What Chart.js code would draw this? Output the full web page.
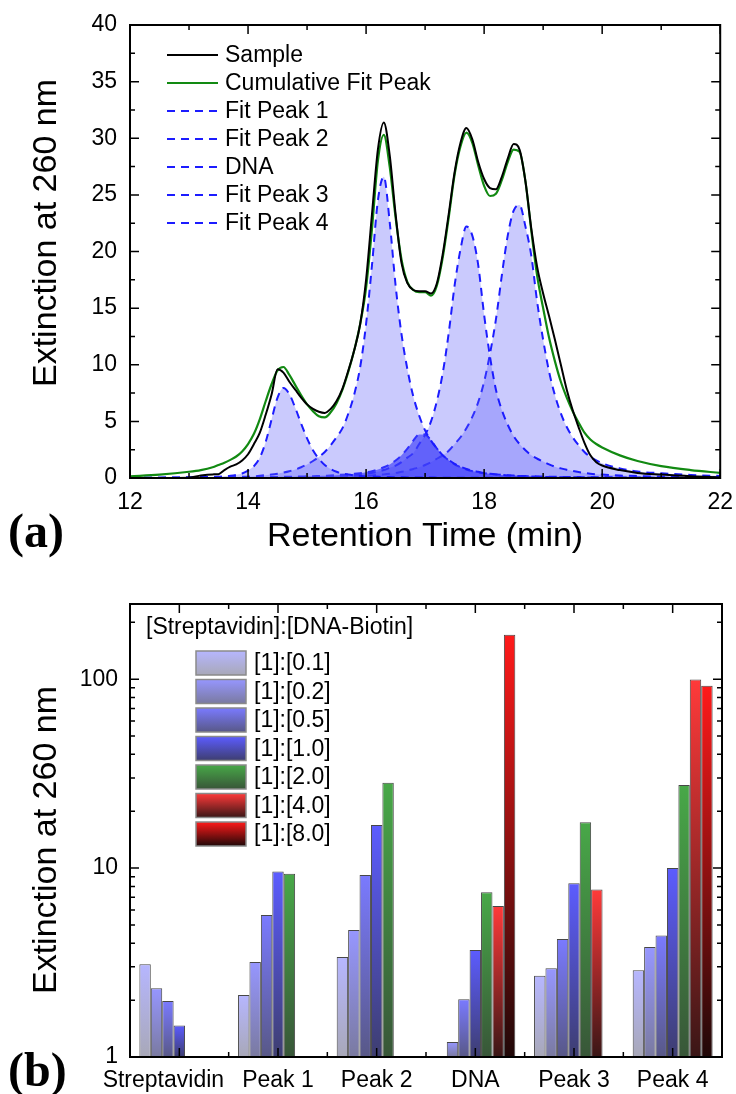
<!DOCTYPE html>
<html>
<head>
<meta charset="utf-8">
<script src="https://cdn.jsdelivr.net/npm/chart.js@4.4.0/dist/chart.umd.min.js"></script>
<style>
  html, body { margin: 0; padding: 0; background: #fff; }
  #page { position: relative; width: 736px; height: 1094px; overflow: hidden; }
  .panel { position: absolute; left: 0; width: 736px; }
  #wrapA { top: 0; height: 575px; }
  #wrapB { top: 575px; height: 519px; }
  .tag { position: absolute; left: 8px; font: bold 48px "Liberation Serif", "Times New Roman", serif; line-height: 1; }
</style>
</head>
<body>
<div id="page">
  <div class="panel" id="wrapA"><canvas id="chromatogram" width="736" height="575"></canvas></div>
  <div class="panel" id="wrapB"><canvas id="extinction" width="736" height="519"></canvas></div>
  <div class="tag" style="top:507px">(a)</div>
  <div class="tag" style="top:1046px">(b)</div>
</div>
<script>
// ---- (a) chromatogram: retention time grid and traces ----
const times = [
  12.0, 12.5, 13.0, 13.2, 13.4, 13.5, 13.6, 13.7, 13.8, 13.9,
  14.0, 14.1, 14.2, 14.3, 14.4, 14.5, 14.6, 14.7, 14.8, 14.9,
  15.0, 15.1, 15.2, 15.3, 15.4, 15.5, 15.6, 15.7, 15.8, 15.9,
  16.0, 16.1, 16.2, 16.3, 16.4, 16.5, 16.6, 16.7, 16.8, 16.9,
  17.0, 17.1, 17.2, 17.3, 17.4, 17.5, 17.6, 17.7, 17.8, 17.9,
  18.0, 18.1, 18.2, 18.3, 18.4, 18.5, 18.6, 18.7, 18.8, 18.9,
  19.0, 19.1, 19.2, 19.3, 19.4, 19.5, 19.6, 19.7, 19.8, 19.9,
  20.0, 20.3, 20.6, 21.0, 21.5, 22.0
];

const sample = [
  0.0, 0.0, 0.02, 0.22, 0.32, 0.34, 0.7, 1.0, 1.2, 1.55,
  2.1, 3.0, 4.0, 5.6, 7.4, 9.6, 9.3, 8.5, 7.8, 7.1,
  6.5, 6.1, 5.85, 5.75, 6.1, 6.8, 7.9, 9.5, 11.3, 13.6,
  17.5, 23.3, 29.0, 31.4, 28.5, 23.3, 19.0, 17.2, 16.6, 16.5,
  16.5, 16.3, 17.2, 19.8, 23.3, 27.0, 29.6, 30.9, 29.9, 27.9,
  26.4, 25.6, 25.5, 26.6, 28.2, 29.5, 29.0, 26.2, 22.0, 18.6,
  16.3, 14.3, 12.2, 10.0, 7.8, 6.0, 4.5, 3.1, 2.0, 1.4,
  1.1, 0.7, 0.45, 0.3, 0.15, 0.05
];

const cumulativeFit = [
  0.15, 0.3, 0.55, 0.7, 0.95, 1.15, 1.35, 1.6, 1.9, 2.35,
  3.0, 3.9, 5.2, 6.8, 8.3, 9.5, 9.8, 9.1, 8.2, 7.3,
  6.5, 5.9, 5.45, 5.35, 5.8, 6.6, 7.8, 9.4, 11.3, 13.6,
  16.8, 22.0, 28.0, 30.3, 27.5, 23.0, 19.3, 17.3, 16.6, 16.4,
  16.4, 16.1, 17.0, 19.5, 23.0, 26.8, 29.3, 30.5, 29.6, 27.6,
  25.8, 24.9, 25.1, 26.3, 27.9, 29.0, 28.8, 26.2, 21.8, 17.8,
  15.0, 12.4, 10.3, 8.5, 7.1, 5.9, 4.9, 4.0, 3.4, 3.0,
  2.7, 2.0, 1.5, 1.05, 0.7, 0.45
];

const fitPeak1 = [
  0.03, 0.04, 0.06, 0.08, 0.1, 0.12, 0.15, 0.2, 0.28, 0.4,
  0.65, 1.05, 1.8, 3.2, 5.2, 7.1, 7.95, 7.4, 6.2, 4.8,
  3.5, 2.45, 1.7, 1.15, 0.8, 0.55, 0.4, 0.3, 0.23, 0.18,
  0.14, 0.12, 0.1, 0.09, 0.08, 0.07, 0.06, 0.05, 0.05, 0.04,
  0.04, 0.04, 0.03, 0.03, 0.03, 0.03, 0.03, 0.02, 0.02, 0.02,
  0.02, 0.02, 0.02, 0.02, 0.02, 0.02, 0.01, 0.01, 0.01, 0.01,
  0.01, 0.01, 0.01, 0.01, 0.01, 0.01, 0.01, 0.01, 0.01, 0.01,
  0.01, 0.01, 0.01, 0.0, 0.0, 0.0
];

const fitPeak2 = [
  0.0, 0.01, 0.02, 0.03, 0.04, 0.05, 0.06, 0.07, 0.08, 0.1,
  0.12, 0.15, 0.2, 0.25, 0.3, 0.38, 0.48, 0.6, 0.75, 0.95,
  1.2, 1.5, 1.85, 2.3, 2.9, 3.6, 4.4, 5.7, 7.4, 9.8,
  13.6, 18.8, 24.5, 26.6, 22.6, 17.0, 12.7, 9.6, 7.2, 5.5,
  4.2, 3.3, 2.6, 2.0, 1.6, 1.25, 1.0, 0.8, 0.65, 0.55,
  0.45, 0.38, 0.32, 0.27, 0.23, 0.2, 0.17, 0.15, 0.13, 0.11,
  0.1, 0.09, 0.08, 0.07, 0.07, 0.06, 0.06, 0.05, 0.05, 0.05,
  0.04, 0.04, 0.03, 0.03, 0.02, 0.02
];

const dnaPeak = [
  0.0, 0.01, 0.02, 0.02, 0.03, 0.03, 0.04, 0.04, 0.05, 0.05,
  0.06, 0.06, 0.07, 0.07, 0.08, 0.09, 0.1, 0.11, 0.12, 0.13,
  0.15, 0.16, 0.18, 0.2, 0.22, 0.25, 0.28, 0.32, 0.37, 0.43,
  0.5, 0.6, 0.75, 0.95, 1.2, 1.55, 2.0, 2.6, 3.3, 3.85,
  3.85, 3.3, 2.6, 2.0, 1.55, 1.2, 0.95, 0.75, 0.6, 0.5,
  0.42, 0.36, 0.31, 0.27, 0.24, 0.21, 0.19, 0.17, 0.15, 0.14,
  0.13, 0.12, 0.11, 0.1, 0.09, 0.08, 0.08, 0.07, 0.07, 0.06,
  0.06, 0.05, 0.04, 0.03, 0.02, 0.02
];

const fitPeak3 = [
  0.0, 0.0, 0.01, 0.01, 0.02, 0.02, 0.02, 0.02, 0.03, 0.03,
  0.03, 0.03, 0.04, 0.04, 0.04, 0.05, 0.05, 0.06, 0.06, 0.07,
  0.08, 0.09, 0.1, 0.11, 0.13, 0.15, 0.18, 0.21, 0.25, 0.3,
  0.37, 0.45, 0.55, 0.7, 0.9, 1.1, 1.4, 1.8, 2.2, 3.0,
  3.8, 5.0, 6.8, 9.3, 12.8, 17.0, 20.2, 22.2, 21.4, 18.8,
  14.4, 10.7, 7.8, 6.0, 4.7, 3.7, 3.0, 2.45, 2.0, 1.7,
  1.45, 1.2, 1.0, 0.85, 0.72, 0.62, 0.53, 0.45, 0.38, 0.33,
  0.3, 0.22, 0.17, 0.12, 0.08, 0.06
];

const fitPeak4 = [
  0.0, 0.0, 0.01, 0.01, 0.01, 0.02, 0.02, 0.02, 0.02, 0.03,
  0.03, 0.03, 0.03, 0.04, 0.04, 0.04, 0.05, 0.05, 0.05, 0.06,
  0.06, 0.07, 0.08, 0.08, 0.09, 0.1, 0.11, 0.13, 0.15, 0.17,
  0.2, 0.23, 0.27, 0.32, 0.38, 0.45, 0.55, 0.65, 0.8, 0.95,
  1.15, 1.4, 1.7, 2.0, 2.4, 3.0, 3.6, 4.4, 5.4, 6.7,
  8.5, 11.0, 14.0, 17.9, 21.4, 23.6, 24.1, 22.2, 19.6, 15.5,
  12.2, 9.4, 7.3, 5.7, 4.5, 3.6, 2.9, 2.3, 1.85, 1.55,
  1.3, 0.85, 0.57, 0.42, 0.27, 0.18
];

const timeMajor = [12, 14, 16, 18, 20, 22];
const timeMinor = [13, 15, 17, 19, 21];
const extMajor = [0, 5, 10, 15, 20, 25, 30, 35, 40];
const extMinor = [2.5, 7.5, 12.5, 17.5, 22.5, 27.5, 32.5, 37.5];

// ---- (b) extinction per fraction and stoichiometry ----
const fractions = ['Streptavidin', 'Peak 1', 'Peak 2', 'DNA', 'Peak 3', 'Peak 4'];
const ratioLabels = ['[1]:[0.1]', '[1]:[0.2]', '[1]:[0.5]', '[1]:[1.0]', '[1]:[2.0]', '[1]:[4.0]', '[1]:[8.0]'];
const ratio01 = [3.1, 2.13, 3.38, null, 2.69, 2.88];
const ratio02 = [2.31, 3.18, 4.7, 1.2, 2.95, 3.82];
const ratio05 = [1.98, 5.64, 9.18, 2.02, 4.21, 4.4];
const ratio10 = [1.47, 9.6, 16.9, 3.68, 8.3, 10.0];
const ratio20 = [null, 9.33, 28.3, 7.44, 17.5, 27.5];
const ratio40 = [null, null, null, 6.3, 7.71, 99.6];
const ratio80 = [null, null, null, 172, null, 92.2];
const logMajor = [1, 10, 100];
const logMinor = [2, 3, 4, 5, 6, 7, 8, 9, 20, 30, 40, 50, 60, 70, 80, 90, 200];

// gradient ends for each ratio's bars (top -> base)
const barTop = ['rgb(182,182,255)', 'rgb(150,150,255)', 'rgb(122,122,255)', 'rgb(92,92,255)',
                'rgb(72,168,72)', 'rgb(255,58,58)', 'rgb(255,26,26)'];
const barBase = ['rgb(168,168,184)', 'rgb(122,122,160)', 'rgb(88,88,135)', 'rgb(62,62,112)',
                 'rgb(56,86,56)', 'rgb(58,22,22)', 'rgb(32,8,8)'];

Chart.defaults.font.family = '"Liberation Sans", Arial, sans-serif';
Chart.defaults.color = '#000';

const FONT = '"Liberation Sans", Arial, sans-serif';
const BLUE = '#1c1cff';
const PEAK_FILL = 'rgba(90,90,250,0.32)';

// inward tick marks on all four sides, the closed frame and the rotated y title
const frame = {
  id: 'frame',
  afterDraw(chart, args, o) {
    const {ctx, chartArea: a, scales: {x, y}} = chart;
    ctx.save();
    ctx.strokeStyle = '#000';
    ctx.lineWidth = 1.5;
    ctx.beginPath();
    [[o.xMajor, 9], [o.xMinor, 5]].forEach(([list, len]) => {
      list.forEach(v => {
        const px = x.getPixelForValue(v);
        ctx.moveTo(px, a.bottom); ctx.lineTo(px, a.bottom - len);
        ctx.moveTo(px, a.top); ctx.lineTo(px, a.top + len);
      });
    });
    [[o.yMajor, 9], [o.yMinor, 5]].forEach(([list, len]) => {
      list.forEach(v => {
        const py = y.getPixelForValue(v);
        ctx.moveTo(a.left, py); ctx.lineTo(a.left + len, py);
        ctx.moveTo(a.right, py); ctx.lineTo(a.right - len, py);
      });
    });
    ctx.stroke();
    ctx.lineWidth = 2;
    ctx.strokeRect(a.left, a.top, a.right - a.left, a.bottom - a.top);

    ctx.fillStyle = '#000';
    ctx.font = '34px ' + FONT;
    ctx.textAlign = 'center';
    ctx.textBaseline = 'middle';
    ctx.translate(o.titleX, o.titleY);
    ctx.rotate(-Math.PI / 2);
    ctx.fillText(o.title, 0, 0);
    ctx.restore();
  }
};

// line legend inside the chromatogram plot
const traceLegend = {
  id: 'traceLegend',
  afterDraw(chart) {
    const ctx = chart.ctx;
    ctx.save();
    ctx.font = '23px ' + FONT;
    ctx.textBaseline = 'middle';
    ctx.textAlign = 'left';
    chart.data.datasets.forEach((ds, i) => {
      const yy = 55 + i * 28;
      ctx.strokeStyle = ds.borderColor;
      ctx.lineWidth = ds.borderWidth;
      ctx.setLineDash(ds.borderDash || []);
      ctx.beginPath();
      ctx.moveTo(167, yy);
      ctx.lineTo(218, yy);
      ctx.stroke();
      ctx.fillStyle = '#000';
      ctx.fillText(ds.label, 225, yy + 1);
    });
    ctx.restore();
  }
};

// swatch legend with its heading inside the bar plot
const ratioLegend = {
  id: 'ratioLegend',
  afterDraw(chart) {
    const ctx = chart.ctx;
    ctx.save();
    ctx.fillStyle = '#000';
    ctx.font = '23px ' + FONT;
    ctx.textBaseline = 'middle';
    ctx.fillText('[Streptavidin]:[DNA-Biotin]', 146, 53);
    chart.data.datasets.forEach((ds, i) => {
      const top = 76 + i * 28.5;
      const g = ctx.createLinearGradient(0, top, 0, top + 24);
      g.addColorStop(0, barTop[i]);
      g.addColorStop(1, barBase[i]);
      ctx.fillStyle = g;
      ctx.fillRect(196, top, 50, 24);
      ctx.strokeStyle = '#8a8a8a';
      ctx.lineWidth = 1.5;
      ctx.strokeRect(196, top, 50, 24);
      ctx.fillStyle = '#000';
      ctx.fillText(ds.label, 254, top + 13);
    });
    ctx.restore();
  }
};

const points = series => times.map((t, i) => ({x: t, y: series[i]}));

const traceStyle = (label, series, color, extra) => Object.assign({
  label,
  data: points(series),
  borderColor: color,
  borderWidth: 2,
  pointRadius: 0,
  cubicInterpolationMode: 'monotone',
  fill: false
}, extra);

const fitStyle = (label, series, fillColor) => traceStyle(label, series, BLUE, {
  borderDash: [8, 6],
  fill: 'origin',
  backgroundColor: fillColor
});

new Chart(document.getElementById('chromatogram'), {
  type: 'line',
  data: {
    datasets: [
      traceStyle('Sample', sample, '#000000'),
      traceStyle('Cumulative Fit Peak', cumulativeFit, '#128a12', {borderWidth: 2.2}),
      fitStyle('Fit Peak 1', fitPeak1, PEAK_FILL),
      fitStyle('Fit Peak 2', fitPeak2, PEAK_FILL),
      fitStyle('DNA', dnaPeak, 'rgba(40,40,250,0.62)'),
      fitStyle('Fit Peak 3', fitPeak3, PEAK_FILL),
      fitStyle('Fit Peak 4', fitPeak4, PEAK_FILL)
    ]
  },
  options: {
    responsive: false,
    animation: false,
    layout: {padding: {left: 0, right: 14, top: 25, bottom: 0}},
    plugins: {
      legend: {display: false},
      tooltip: {enabled: false},
      frame: {
        xMajor: timeMajor, xMinor: timeMinor, yMajor: extMajor, yMinor: extMinor,
        title: 'Extinction at 260 nm', titleX: 47, titleY: 233
      }
    },
    scales: {
      x: {
        type: 'linear', min: 12, max: 22,
        grid: {display: false}, border: {display: false},
        ticks: {stepSize: 2, font: {size: 23}, padding: 3, maxRotation: 0},
        title: {display: true, text: 'Retention Time (min)', font: {size: 34}, padding: {top: 0, bottom: 18}},
        afterFit: s => { s.height = 97; }
      },
      y: {
        min: 0, max: 40,
        grid: {display: false}, border: {display: false},
        ticks: {stepSize: 5, font: {size: 23}, padding: 5},
        afterFit: s => { s.width = 130; }
      }
    }
  },
  plugins: [frame, traceLegend]
});

const ratioSeries = [ratio01, ratio02, ratio05, ratio10, ratio20, ratio40, ratio80];

new Chart(document.getElementById('extinction'), {
  type: 'bar',
  data: {
    labels: fractions,
    datasets: ratioSeries.map((values, i) => ({
      label: ratioLabels[i],
      data: values,
      borderColor: 'rgba(25,25,25,0.8)',
      borderWidth: 1,
      barPercentage: 1.0,
      categoryPercentage: 0.81,
      backgroundColor: ctx => {
        const {chart, raw} = ctx;
        const area = chart.chartArea;
        if (!area || raw == null) return barTop[i];
        const top = chart.scales.y.getPixelForValue(raw);
        const g = chart.ctx.createLinearGradient(0, top, 0, area.bottom);
        g.addColorStop(0, barTop[i]);
        g.addColorStop(1, barBase[i]);
        return g;
      }
    }))
  },
  options: {
    responsive: false,
    animation: false,
    layout: {padding: {left: 0, right: 14, top: 29, bottom: 0}},
    plugins: {
      legend: {display: false},
      tooltip: {enabled: false},
      frame: {
        xMajor: [0, 1, 2, 3, 4, 5], xMinor: [0.5, 1.5, 2.5, 3.5, 4.5],
        yMajor: logMajor, yMinor: logMinor,
        title: 'Extinction at 260 nm', titleX: 47, titleY: 265
      }
    },
    scales: {
      x: {
        grid: {display: false}, border: {display: false},
        ticks: {
          font: {size: 23}, padding: 2, maxRotation: 0, autoSkip: false,
          // the long first name sits a little left of its group, clear of "Peak 1"
          callback: (v, i) => i === 0 ? fractions[i] + '     ' : fractions[i]
        },
        afterFit: s => { s.height = 37; }
      },
      y: {
        type: 'logarithmic', min: 1, max: 250,
        grid: {display: false}, border: {display: false},
        ticks: {
          font: {size: 23}, padding: 4, autoSkip: false,
          callback: v => logMajor.includes(v) ? String(v) : ''
        },
        afterFit: s => { s.width = 130; }
      }
    }
  },
  plugins: [frame, ratioLegend]
});
</script>
</body>
</html>
